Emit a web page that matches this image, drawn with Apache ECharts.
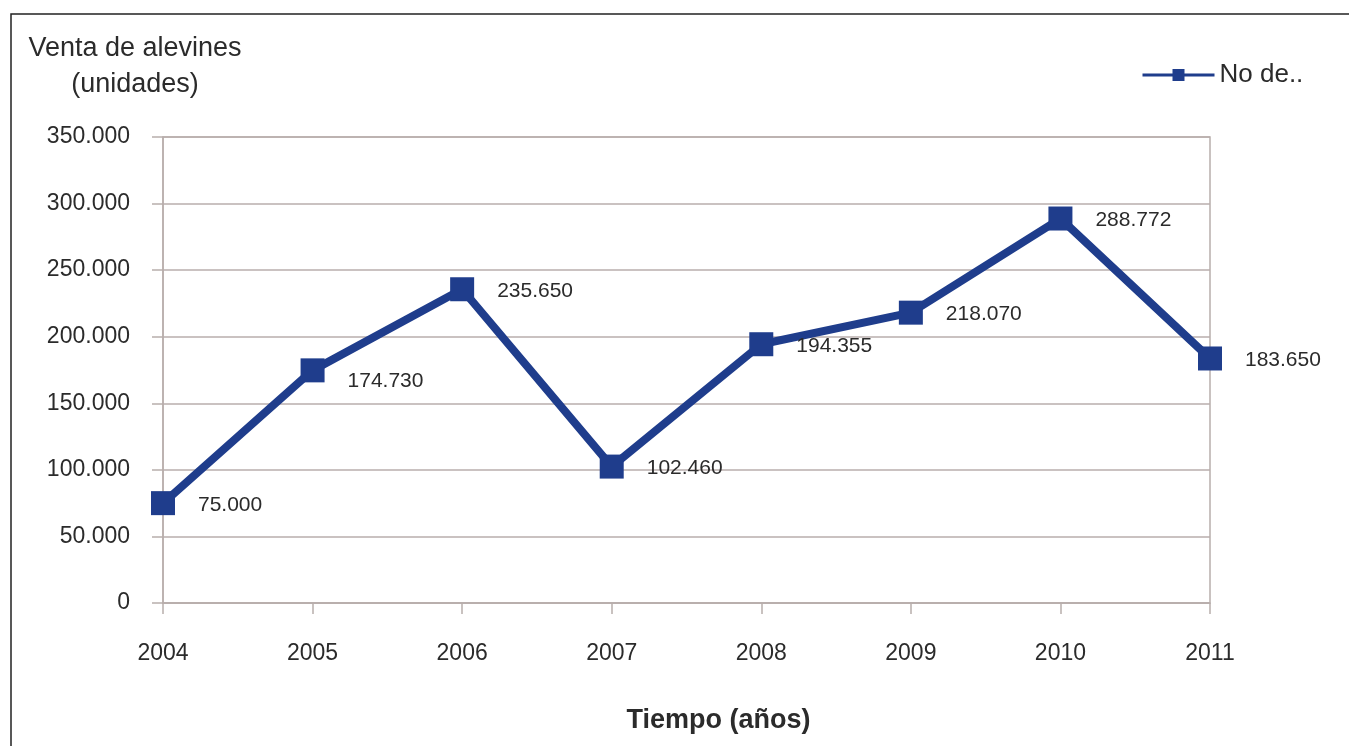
<!DOCTYPE html>
<html>
<head>
<meta charset="utf-8">
<script src="https://cdn.jsdelivr.net/npm/echarts@6/dist/echarts.min.js"></script>
<style>
html,body{margin:0;padding:0;background:#fff;}
#chart{width:1349px;height:746px;}
</style>
</head>
<body>
<div id="chart"></div>
<script>
const years = ['2004','2005','2006','2007','2008','2009','2010','2011'];
const ventas = [75000, 174730, 235650, 102460, 194355, 218070, 288772, 183650];
const yTicks = [0, 50000, 100000, 150000, 200000, 250000, 300000, 350000];
const seriesName = 'No de..';
const yTitle = 'Venta de alevines\n(unidades)';
const xTitle = 'Tiempo (años)';

function fmt(v){
  return String(v).replace(/\B(?=(\d{3})+(?!\d))/g, '.');
}

const lineColor = '#1f3d8c';
const gridColor = '#b8aeac';
const textColor = '#2b2b2b';
const font = 'Liberation Sans, Arial, sans-serif';

const labelDy = {1: 11};
const seriesData = ventas.map((v, i) => ({
  value: v,
  label: { offset: [0, (labelDy[i] !== undefined ? labelDy[i] : 2)] }
}));

const chart = echarts.init(document.getElementById('chart'));
chart.setOption({
  backgroundColor: '#fff',
  animation: false,
  grid: { left: 163, right: 139, top: 137, bottom: 143, show: true, borderColor: gridColor, borderWidth: 1.5 },
  legend: {
    data: [seriesName],
    left: 1136, top: 57,
    itemWidth: 72, itemHeight: 15, itemGap: 4,
    lineStyle: { width: 3 },
    textStyle: { fontFamily: font, fontSize: 26, color: textColor }
  },
  xAxis: {
    type: 'category',
    data: years,
    boundaryGap: false,
    axisLine: { lineStyle: { color: gridColor, width: 1.5 } },
    axisTick: { show: true, length: 11, lineStyle: { color: gridColor, width: 1.5 }, alignWithLabel: true },
    axisLabel: { fontFamily: font, fontSize: 23, color: textColor, margin: 39 },
    splitLine: { show: false },
    name: xTitle,
    nameLocation: 'middle',
    nameGap: 104,
    nameTextStyle: { fontFamily: font, fontSize: 27, fontWeight: 'bold', color: textColor, padding: [0, 0, 0, 64] }
  },
  yAxis: {
    type: 'value',
    min: yTicks[0], max: yTicks[yTicks.length - 1], interval: yTicks[1] - yTicks[0],
    axisLine: { show: true, lineStyle: { color: gridColor, width: 1.5 } },
    axisTick: { show: true, length: 11, lineStyle: { color: gridColor, width: 1.5 } },
    axisLabel: { fontFamily: font, fontSize: 23, color: textColor, margin: 33, formatter: v => fmt(v) },
    splitLine: { show: true, lineStyle: { color: gridColor, width: 1.5 } }
  },
  graphic: [
    {
      type: 'rect', silent: true, z: 100,
      shape: { x: 11, y: 14, width: 1500, height: 900 },
      style: { fill: 'none', stroke: '#222', lineWidth: 1.5 }
    },
    {
      type: 'text', x: 135, y: 31, z: 100,
      style: {
        text: yTitle, align: 'center', textAlign: 'center', verticalAlign: 'top', textVerticalAlign: 'top',
        fontFamily: font, fontSize: 27, lineHeight: 36, fill: textColor
      }
    }
  ],
  series: [{
    name: seriesName,
    type: 'line',
    data: seriesData,
    symbol: 'rect',
    symbolSize: 24,
    lineStyle: { color: lineColor, width: 8 },
    itemStyle: { color: lineColor },
    label: {
      show: true, position: 'right', distance: 23,
      fontFamily: font, fontSize: 21, color: textColor,
      formatter: p => fmt(p.value)
    }
  }]
});
</script>
</body>
</html>
